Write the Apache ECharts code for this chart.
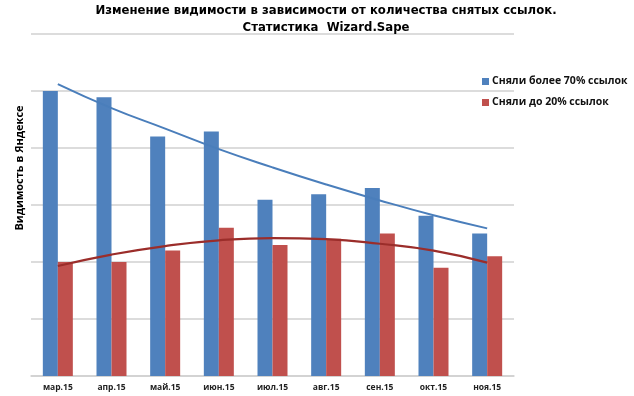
<!DOCTYPE html>
<html><head><meta charset="utf-8">
<script src="https://cdn.jsdelivr.net/npm/echarts@6/dist/echarts.min.js"></script>
<style>html,body{margin:0;padding:0;background:#fff}#c{width:634px;height:396px}</style>
</head><body><div id="c"></div>
<script>
const categories = ['мар.15','апр.15','май.15','июн.15','июл.15','авг.15','сен.15','окт.15','ноя.15'];
const over70 = [5.0, 4.89, 4.2, 4.29, 3.09, 3.19, 3.3, 2.81, 2.5];
const under20 = [2.0, 2.0, 2.2, 2.6, 2.3, 2.41, 2.5, 1.9, 2.1];
const trendOver70 = [5.12, 4.70, 4.34, 3.98, 3.66, 3.36, 3.08, 2.82, 2.59];
const trendUnder20 = [1.93, 2.13, 2.28, 2.38, 2.42, 2.40, 2.32, 2.20, 1.99];
const seriesNames = ['Сняли более 70% ссылок', 'Сняли до 20% ссылок'];

const chart = echarts.init(document.getElementById('c'), null, {renderer:'canvas'});
chart.setOption({
  animation: false,
  backgroundColor: '#fff',
  title: {
    text: 'Изменение видимости в зависимости от количества снятых ссылок.\nСтатистика  Wizard.Sape',
    left: 321, textAlign: 'center', top: -3,
    textStyle: {fontFamily: '"Liberation Sans Narrow","DejaVu Sans Condensed",Arial', fontSize: 13, fontWeight: 'bold', color: '#000', lineHeight: 17}
  },
  legend: {
    data: seriesNames, orient: 'vertical', left: 477, top: 71, itemGap: 10,
    itemWidth: 7, itemHeight: 7, icon: 'rect',
    textStyle: {fontFamily: '"Open Sans"', fontSize: 10.5, fontWeight: 'bold', color: '#111', padding: [0,0,0,-2]}
  },
  grid: {left: 31, right: 120, top: 34, bottom: 20},
  xAxis: {
    type: 'category', data: categories,
    axisTick: {show: false},
    axisLine: {lineStyle: {color: '#d0d0d0', width: 1.5}},
    axisLabel: {fontFamily: '"Open Sans"', fontSize: 8.5, fontWeight: 'bold', color: '#222', margin: 7}
  },
  yAxis: {
    type: 'value', min: 0, max: 6, interval: 1,
    axisLabel: {show: false}, axisLine: {show: false}, axisTick: {show: false},
    splitLine: {lineStyle: {color: '#d0d0d0', width: 1.5}}
  },
  graphic: [{
    type: 'text', x: 20, y: 168, rotation: Math.PI/2,
    style: {text: 'Видимость в Яндексе', fontFamily: '"Open Sans"', fontSize: 11, fontWeight: 'bold', fill: '#000', align: 'center', verticalAlign: 'middle'}
  }],
  series: [
    {name: seriesNames[0], type: 'bar', data: over70, barWidth: 15, barGap: '0%', itemStyle: {color: '#4F81BD'}},
    {name: seriesNames[1], type: 'bar', data: under20, barWidth: 15, barGap: '0%', itemStyle: {color: '#C0504D'}},
    {type: 'line', data: trendOver70, smooth: true, showSymbol: false, symbol: 'none', lineStyle: {color: '#4A7EBB', width: 2}, z: 5},
    {type: 'line', data: trendUnder20, smooth: true, showSymbol: false, symbol: 'none', lineStyle: {color: '#9B2D2A', width: 2.2}, z: 5}
  ]
});
</script></body></html>
